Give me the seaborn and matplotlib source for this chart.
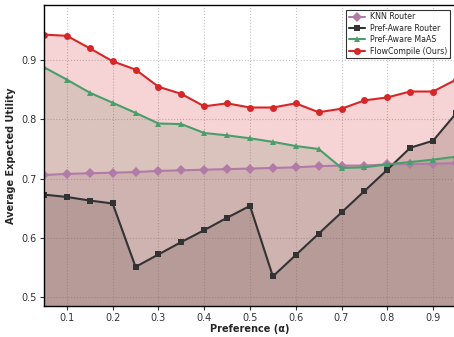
import numpy as np
import pandas as pd
import matplotlib
matplotlib.use("Agg")
import matplotlib.pyplot as plt
import seaborn as sns

# preference values on the x axis
alpha = [0.05, 0.10, 0.15, 0.20, 0.25, 0.30, 0.35, 0.40, 0.45, 0.50,
         0.55, 0.60, 0.65, 0.70, 0.75, 0.80, 0.85, 0.90, 0.95]

knn_router = [0.706, 0.708, 0.709, 0.710, 0.711, 0.713, 0.714, 0.715, 0.716, 0.717,
              0.718, 0.719, 0.721, 0.722, 0.722, 0.724, 0.7245, 0.725, 0.726]
pref_router = [0.673, 0.669, 0.663, 0.658, 0.551, 0.572, 0.593, 0.613, 0.634, 0.654,
               0.535, 0.571, 0.607, 0.643, 0.679, 0.715, 0.752, 0.764, 0.810]
pref_maas = [0.888, 0.867, 0.845, 0.828, 0.811, 0.793, 0.792, 0.777, 0.773, 0.768,
             0.762, 0.755, 0.750, 0.718, 0.719, 0.724, 0.728, 0.732, 0.737]
flowcompile = [0.943, 0.941, 0.920, 0.898, 0.884, 0.855, 0.843, 0.822, 0.827, 0.820,
               0.820, 0.827, 0.812, 0.818, 0.832, 0.837, 0.847, 0.847, 0.867]

methods = ["KNN Router", "Pref-Aware Router", "Pref-Aware MaAS", "FlowCompile (Ours)"]
colors = ["#b27aa6", "#333333", "#4a9e6c", "#d62728"]
markers = ["D", "s", "^", "o"]

df = pd.DataFrame({
    "alpha": alpha * 4,
    "utility": knn_router + pref_router + pref_maas + flowcompile,
    "method": np.repeat(methods, len(alpha)),
})

sns.set_style("ticks")
plt.rcParams["font.family"] = ["DejaVu Sans"]

fig = plt.figure(figsize=(4.54, 3.37), dpi=100)
ax = fig.add_axes([44 / 454, 31 / 337, 412 / 454, 301 / 337])

y_min = df["utility"].min() - 0.05
y_max = df["utility"].max() + 0.05

# shaded areas under each curve
for m, c in zip(methods, colors):
    sub = df[df["method"] == m]
    ax.fill_between(sub["alpha"], sub["utility"], y_min, color=c, alpha=0.2, linewidth=0)

sns.lineplot(data=df, x="alpha", y="utility", hue="method", style="method",
             hue_order=methods, style_order=methods,
             palette=dict(zip(methods, colors)), markers=dict(zip(methods, markers)),
             dashes=False, markersize=5, linewidth=1.5, markeredgewidth=0, ax=ax)

ax.set_xlim(0.05, 0.95)
ax.set_ylim(y_min, y_max)
ax.set_xticks([0.1, 0.2, 0.3, 0.4, 0.5, 0.6, 0.7, 0.8, 0.9])
ax.set_yticks([0.5, 0.6, 0.7, 0.8, 0.9])
ax.grid(True, linestyle=":", color="#c4c4c4", linewidth=0.8)
ax.tick_params(labelsize=7, colors="#333333", length=3, width=0.8, pad=2)
for s in ax.spines.values():
    s.set_color("black")
    s.set_linewidth(1.0)

ax.set_xlabel("Preference (α)", fontsize=7, fontweight="bold", labelpad=1)
ax.set_ylabel("Average Expected Utility", fontsize=7, fontweight="bold", labelpad=4)

leg = ax.legend(loc="upper right", fontsize=5.7, frameon=True, fancybox=False,
                edgecolor="black", borderaxespad=0.4, handlelength=2.0,
                labelspacing=0.3, borderpad=0.35, handletextpad=0.6,
                bbox_to_anchor=(409 / 412, 0.995))
leg.get_frame().set_linewidth(0.8)

fig.savefig("out.png", dpi=100)
